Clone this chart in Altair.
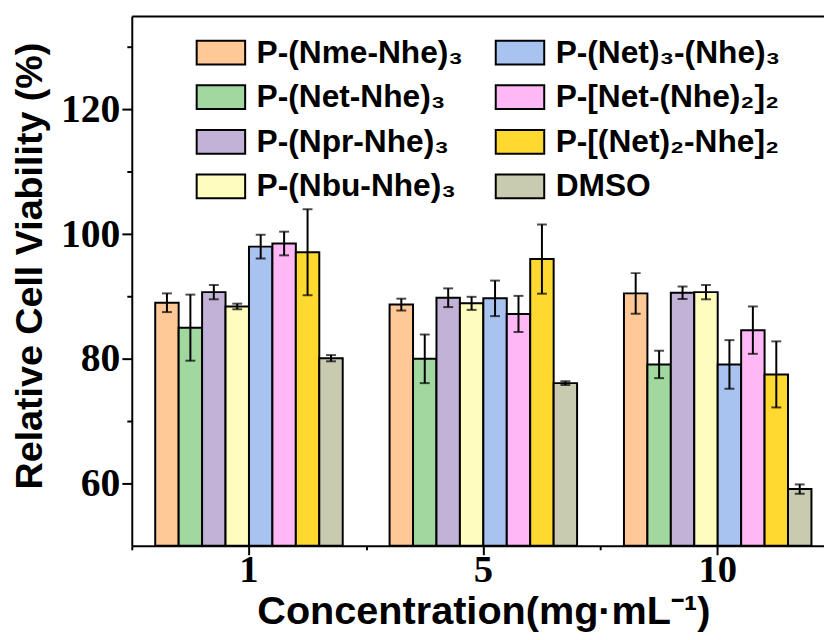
import altair as alt
import pandas as pd

concentrations = ["1", "5", "10"]
series = [
    "P-(Nme-Nhe)₃",
    "P-(Net-Nhe)₃",
    "P-(Npr-Nhe)₃",
    "P-(Nbu-Nhe)₃",
    "P-(Net)₃-(Nhe)₃",
    "P-[Net-(Nhe)₂]₂",
    "P-[(Net)₂-Nhe]₂",
    "DMSO",
]
colors = ["#FFC896", "#A0D8A0", "#C3B2D8", "#FFFDBD", "#A8C3F0", "#FFB8F5", "#FFD92F", "#C8CBAF"]

v_nme = [89.0, 88.7, 90.5]
v_net = [85.0, 80.0, 79.1]
v_npr = [90.7, 89.8, 90.6]
v_nbu = [88.4, 88.9, 90.7]
v_net3 = [98.0, 89.7, 79.1]
v_pink = [98.5, 87.2, 84.6]
v_gold = [97.1, 96.0, 77.5]
v_dmso = [80.1, 76.1, 59.1]

e_nme = [1.5, 0.95, 3.25]
e_net = [5.3, 3.9, 2.2]
e_npr = [1.15, 1.5, 1.0]
e_nbu = [0.45, 1.05, 1.15]
e_net3 = [1.9, 2.85, 3.9]
e_pink = [1.9, 2.9, 3.8]
e_gold = [6.9, 5.55, 5.3]
e_dmso = [0.5, 0.3, 0.75]

values = [v_nme, v_net, v_npr, v_nbu, v_net3, v_pink, v_gold, v_dmso]
errors = [e_nme, e_net, e_npr, e_nbu, e_net3, e_pink, e_gold, e_dmso]

rows = []
for s, vals, errs in zip(series, values, errors):
    for c, v, e in zip(concentrations, vals, errs):
        rows.append({"conc": c, "series": s, "value": v, "lo": v - e, "hi": v + e})
df = pd.DataFrame(rows)

SANS = "Liberation Sans"
SERIF = "Liberation Serif"

xscale = alt.Scale(domain=concentrations, paddingInner=0, paddingOuter=0, range=[0, 710])
yscale = alt.Scale(domain=[50, 135], nice=False, zero=False)
xoff = alt.XOffset("series:N", sort=series, scale=alt.Scale(paddingInner=0, paddingOuter=1))

base = alt.Chart(df)

bars = base.mark_bar(stroke="black", strokeWidth=2).encode(
    x=alt.X("conc:N", sort=concentrations, scale=xscale,
            axis=alt.Axis(orient="bottom", labelAngle=0, tickSize=9, tickWidth=2, tickColor="black",
                          domainWidth=2, domainColor="black",
                          labelFont=SERIF, labelFontWeight="bold", labelFontSize=39, labelColor="black",
                          labelPadding=-4, labelBaseline="top",
                          title="Concentration(mg·mL⁻¹)", titleFont=SANS, titleFontWeight="bold",
                          titleFontSize=40, titleColor="black", titleY=78, titleBaseline="alphabetic")),
    xOffset=xoff,
    y=alt.Y("value:Q", scale=yscale,
            axis=alt.Axis(orient="left", values=[60, 80, 100, 120], tickSize=10, tickWidth=2,
                          tickColor="black", domainWidth=2, domainColor="black", grid=False,
                          labelFont=SERIF, labelFontWeight="bold", labelFontSize=40, labelColor="black",
                          labelPadding=2,
                          title="Relative Cell Viability (%)", titleFont=SANS, titleFontWeight="bold",
                          titleFontSize=38, titleColor="black", titleAngle=270, titleX=-91, titleY=252,
                          titleAlign="center", titleBaseline="alphabetic")),
    y2=alt.datum(50),
    color=alt.Color("series:N", scale=alt.Scale(domain=series, range=colors),
                    legend=alt.Legend(title=None, orient="none", legendX=74, legendY=21, columns=2,
                                      symbolType="M-2.04,-1H2.04V1H-2.04Z", symbolSize=576,
                                      symbolStrokeColor="black", symbolStrokeWidth=2, symbolOpacity=1,
                                      labelFont=SANS, labelFontWeight="bold", labelFontSize=32,
                                      labelColor="black", labelOffset=20, rowPadding=13,
                                      columnPadding=28, padding=0, labelLimit=500)),
)

err_rule = base.mark_rule(color="black", strokeWidth=2).encode(
    x=alt.X("conc:N", sort=concentrations, scale=xscale,
            axis=alt.Axis(orient="bottom", tickBand="extent", tickSize=4, tickWidth=2, tickColor="black",
                          labels=False, domain=False, title=None)),
    xOffset=xoff,
    y=alt.Y("lo:Q", scale=yscale,
            axis=alt.Axis(orient="left", values=[70, 90, 110, 130], tickSize=5, tickWidth=2,
                          tickColor="black", labels=False, domain=False, grid=False, title=None)),
    y2="hi:Q",
)

cap_hi = base.mark_tick(color="black", size=10, thickness=2).encode(
    x=alt.X("conc:N", sort=concentrations, scale=xscale,
            axis=alt.Axis(orient="top", ticks=False, labels=False, domain=True, domainWidth=2,
                          domainColor="black", title=None)),
    xOffset=xoff,
    y=alt.Y("hi:Q", scale=yscale, axis=None),
)

cap_lo = base.mark_tick(color="black", size=10, thickness=2).encode(
    x=alt.X("conc:N", sort=concentrations, scale=xscale, axis=None),
    xOffset=xoff,
    y=alt.Y("lo:Q", scale=yscale, axis=None),
)

chart = (
    alt.layer(bars, err_rule, cap_hi, cap_lo)
    .resolve_scale(x="shared", y="shared")
    .resolve_axis(x="independent", y="independent")
    .properties(width=699, height=535,
                autosize=alt.AutoSizeParams(type="none"),
                padding={"left": 125, "top": 5, "right": 0, "bottom": 90},
                background="white")
    .configure_view(stroke=None)
)

chart.save("out.html", embed_options={"renderer": "svg", "actions": False})
